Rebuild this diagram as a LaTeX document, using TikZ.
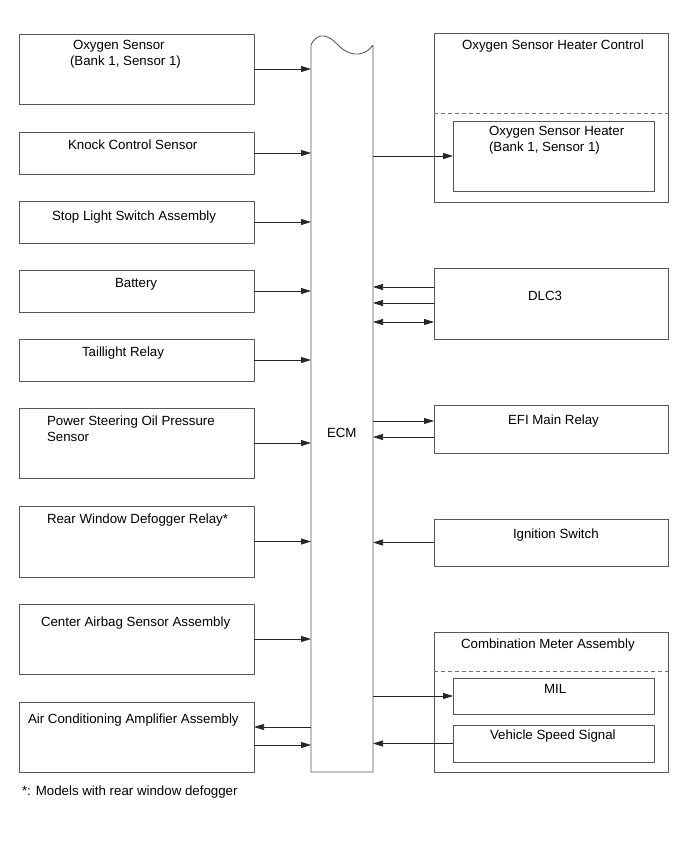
\documentclass[tikz,border=0pt]{standalone}
\usepackage{fontspec}
\setmainfont{Liberation Sans}
\usetikzlibrary{arrows.meta,calc}
\begin{document}
\begin{tikzpicture}[x=1pt,y=-1pt,
  box/.style={draw=black!65,line width=0.9pt,inner sep=0pt,outer sep=0pt,anchor=north west},
  lbl/.style={anchor=base west,inner sep=0pt,outer sep=0pt,font=\fontsize{13.3}{15}\selectfont,text=black},
  arr/.style={draw=black!85,line width=0.75pt,-{Triangle[length=10pt,width=6pt]}},
  darr/.style={draw=black!85,line width=0.75pt,{Triangle[length=10pt,width=6pt]}-{Triangle[length=10pt,width=6pt]}},
  divider/.style={draw=black!55,line width=0.8pt,dash pattern=on 4pt off 3pt},
  ecmline/.style={draw=black!65,line width=0.9pt}]
\useasboundingbox[fill=white] (0,0) rectangle (691,854);

% left boxes
\node[box,minimum width=235pt,minimum height=70pt] (ox) at (19,34) {};
\node[box,minimum width=235pt,minimum height=42pt] (knock) at (19,132) {};
\node[box,minimum width=235pt,minimum height=42pt] (stop) at (19,201) {};
\node[box,minimum width=235pt,minimum height=42pt] (bat) at (19,270) {};
\node[box,minimum width=235pt,minimum height=42pt] (tail) at (19,339) {};
\node[box,minimum width=235pt,minimum height=70pt] (ps) at (19,408) {};
\node[box,minimum width=235pt,minimum height=71pt] (rear) at (19,506) {};
\node[box,minimum width=235pt,minimum height=70pt] (air) at (19,604) {};
\node[box,minimum width=235pt,minimum height=70pt] (ac) at (19,702) {};

% ECM
\node[inner sep=0pt,outer sep=0pt,minimum width=62pt,minimum height=727pt,anchor=north west] (ecm) at (311,45) {};
\draw[ecmline] (ecm.north east) -- (ecm.south east) -- (ecm.south west) -- (ecm.north west)
  .. controls (318,30) and (330,36) .. (338,45)
  .. controls (346,54) and (362,60) .. (ecm.north east);

% right boxes
\node[box,minimum width=234pt,minimum height=169pt] (oshc) at (434,33) {};
\node[box,minimum width=201pt,minimum height=70pt] (osh) at (453,121) {};
\node[box,minimum width=234pt,minimum height=71pt] (dlc) at (434,268) {};
\node[box,minimum width=234pt,minimum height=48pt] (efi) at (434,405) {};
\node[box,minimum width=234pt,minimum height=47pt] (ign) at (434,519) {};
\node[box,minimum width=234pt,minimum height=140pt] (cma) at (434,632) {};
\node[box,minimum width=201pt,minimum height=36pt] (mil) at (453,678) {};
\node[box,minimum width=201pt,minimum height=37pt] (vss) at (453,725) {};

% dashed dividers
\coordinate (dv1) at (434,113);
\coordinate (dv2) at (434,671);
\draw[divider] (dv1) -- (dv1 -| oshc.east);
\draw[divider] (dv2) -- (dv2 -| cma.east);

% labels
\node[lbl] (t1a) at (73,49) {Oxygen Sensor};
\node[lbl] (t1b) at (70,65) {(Bank 1, Sensor 1)};
\node[lbl] (t2) at (68,149) {Knock Control Sensor};
\node[lbl] (t3) at (52,220) {Stop Light Switch Assembly};
\node[lbl] (t4) at (115,287) {Battery};
\node[lbl] (t5) at (82,356) {Taillight Relay};
\node[lbl] (t6a) at (47,425) {Power Steering Oil Pressure};
\node[lbl] (t6b) at (47,441) {Sensor};
\node[lbl] (t7) at (47,523) {Rear Window Defogger Relay*};
\node[lbl] (t8) at (41,626) {Center Airbag Sensor Assembly};
\node[lbl] (t9) at (28,723) {Air Conditioning Amplifier Assembly};
\node[lbl] (tecm) at (327,437) {ECM};
\node[lbl] (r1) at (462,49) {Oxygen Sensor Heater Control};
\node[lbl] (r1a) at (489,135) {Oxygen Sensor Heater};
\node[lbl] (r1b) at (489,151) {(Bank 1, Sensor 1)};
\node[lbl] (r2) at (528,300) {DLC3};
\node[lbl] (r3) at (508,424) {EFI Main Relay};
\node[lbl] (r4) at (513,538) {Ignition Switch};
\node[lbl] (r5) at (461,648) {Combination Meter Assembly};
\node[lbl] (r5a) at (544,693) {MIL};
\node[lbl] (r5b) at (490,739) {Vehicle Speed Signal};
\node[lbl] (foot) at (22,795) {*: Models with rear window defogger};

% left connectors
\draw[arr] (ox.east) -- (ox.east -| ecm.west);
\draw[arr] (knock.east) -- (knock.east -| ecm.west);
\draw[arr] (stop.east) -- (stop.east -| ecm.west);
\draw[arr] (bat.east) -- (bat.east -| ecm.west);
\draw[arr] (tail.east) -- (tail.east -| ecm.west);
\draw[arr] (ps.east) -- (ps.east -| ecm.west);
\draw[arr] (rear.east) -- (rear.east -| ecm.west);
\draw[arr] (air.east) -- (air.east -| ecm.west);
\coordinate (ac1) at ([yshift=10pt]ac.east);
\coordinate (ac2) at ([yshift=-8pt]ac.east);
\draw[arr] (ac1 -| ecm.west) -- (ac1);
\draw[arr] (ac2) -- (ac2 -| ecm.west);

% right connectors
\draw[arr] (osh.west -| ecm.east) -- (osh.west);
\coordinate (d1) at ([yshift=16.5pt]dlc.west);
\coordinate (d2) at ([yshift=0.5pt]dlc.west);
\coordinate (d3) at ([yshift=-18.5pt]dlc.west);
\draw[arr] (d1) -- (d1 -| ecm.east);
\draw[arr] (d2) -- (d2 -| ecm.east);
\draw[darr] (d3 -| ecm.east) -- (d3);
\coordinate (e1) at ([yshift=8pt]efi.west);
\coordinate (e2) at ([yshift=-8pt]efi.west);
\draw[arr] (e1 -| ecm.east) -- (e1);
\draw[arr] (e2) -- (e2 -| ecm.east);
\draw[arr] (ign.west) -- (ign.west -| ecm.east);
\draw[arr] (mil.west -| ecm.east) -- (mil.west);
\draw[arr] (vss.west) -- (vss.west -| ecm.east);
\end{tikzpicture}
\end{document}
